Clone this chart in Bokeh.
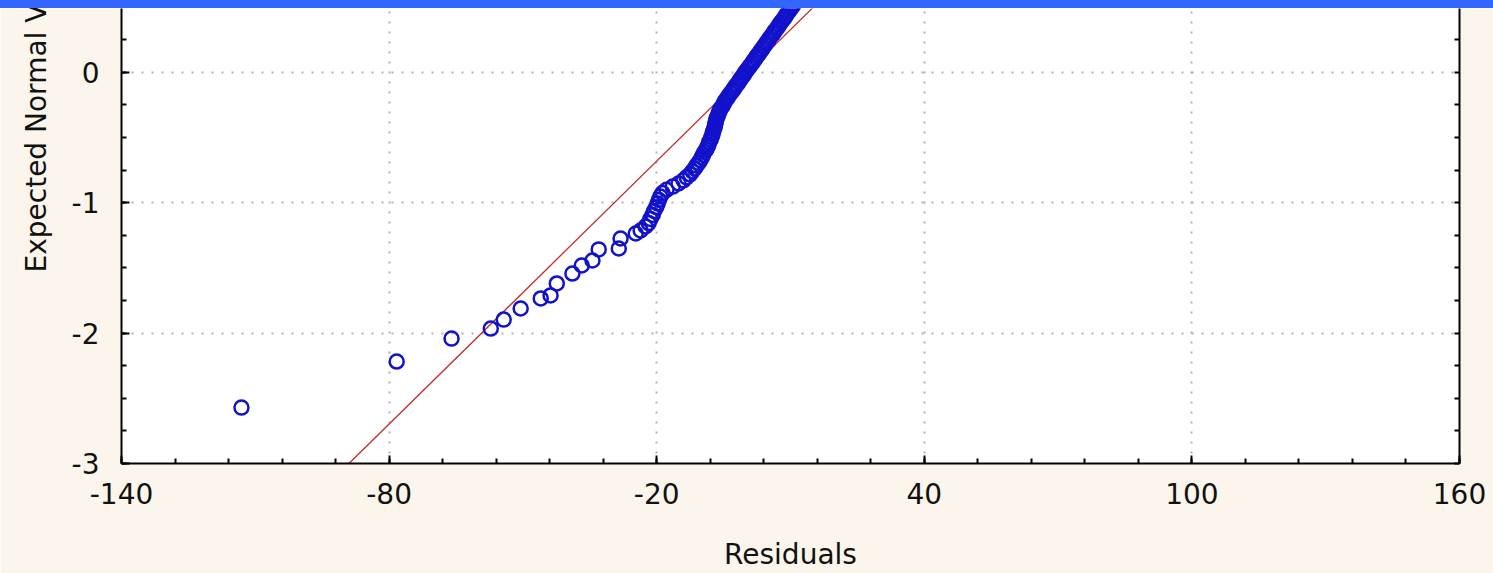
import numpy as np
from bokeh.plotting import figure
from bokeh.layouts import column
from bokeh.models import LinearAxis, FixedTicker, Range1d, ColumnDataSource, Title, Div
from bokeh.embed import file_html
from bokeh.resources import INLINE

# ---- data ----
residuals = [-113.1, -78.3, -66.0, -57.2, -54.3, -50.5, -46.0, -43.8, -42.4, -38.9,
             -36.8, -34.4, -33.0, -28.5, -28.1, -24.7, -23.6, -22.5,
             -21.8, -21.4, -20.9, -20.6, -20.1, -19.8, -19.5, -19.2, -18.7, -17.8,
             -16.4, -15.1, -14.0, -13.3, -12.5, -12.0, -11.5, -11.1, -10.6, -10.2,
             -9.9, -9.6, -9.3, -8.9, -8.6, -8.4, -8.2, -7.9, -7.7, -7.5, -7.4, -7.2,
             -7.0, -6.9, -6.8, -6.7, -6.5, -6.3, -6.1, -5.9, -5.7, -5.3, -5.0, -4.8,
             -4.5, -4.1, -3.8, -3.4, -3.0, -2.7, -2.4, -2.0, -1.6, -1.3, -1.0, -0.6,
             -0.3, 0.0, 0.4, 0.8, 1.1, 1.5, 1.8, 2.2, 2.5, 2.9, 3.2, 3.6, 3.9, 4.3,
             4.6, 5.0, 5.3, 5.7, 6.1, 6.4, 6.8, 7.2, 7.5, 7.9, 8.3, 8.7, 9.0, 9.4,
             9.8, 10.2, 10.6, 10.9, 11.2]
expected_normal = [-2.571, -2.218, -2.042, -1.965, -1.896, -1.811, -1.734, -1.711, -1.619,
                   -1.543, -1.481, -1.443, -1.358, -1.351, -1.274, -1.236, -1.213, -1.182,
                   -1.156, -1.124, -1.093, -1.063, -1.034, -1.006, -0.979, -0.952, -0.926,
                   -0.901, -0.876, -0.852, -0.828, -0.805, -0.782, -0.759, -0.737, -0.715,
                   -0.694, -0.673, -0.652, -0.632, -0.611, -0.592, -0.572, -0.553, -0.533,
                   -0.514, -0.495, -0.476, -0.458, -0.439, -0.421, -0.403, -0.385, -0.367,
                   -0.349, -0.331, -0.314, -0.296, -0.279, -0.262, -0.244, -0.227, -0.210,
                   -0.193, -0.176, -0.159, -0.142, -0.126, -0.109, -0.092, -0.075, -0.058,
                   -0.042, -0.025, -0.008, 0.008, 0.025, 0.042, 0.058, 0.075, 0.092, 0.109,
                   0.126, 0.142, 0.159, 0.176, 0.193, 0.210, 0.227, 0.244, 0.262, 0.279,
                   0.296, 0.314, 0.331, 0.349, 0.367, 0.385, 0.403, 0.421, 0.439, 0.458,
                   0.476, 0.495, 0.514, 0.533, 0.553]
ref_line_x = [-89.0, 30.0]
ref_line_y = [-3.0, 1.0]
x_ticks = [-140, -80, -20, 40, 100, 160]
y_ticks = [-3, -2, -1, 0]
x_label = "Residuals"
y_label = "Expected Normal Value"

CREAM = "#fcf5eb"
BLUE_BAND = "#3366ff"
FONT = "DejaVu Sans"

p = figure(width=1493, height=565,
           x_range=Range1d(-140, 160), y_range=Range1d(-3, 0.49),
           output_backend="svg", toolbar_location=None,
           min_border_left=121, min_border_right=34, min_border_top=0, min_border_bottom=110,
           background_fill_color="white", border_fill_color=CREAM,
           outline_line_color=None)

minor_x = list(np.arange(-140, 161, 12))
minor_y = list(np.arange(-3, 0.5, 0.25))

def style_axis(ax):
    ax.axis_line_color = "black"
    ax.axis_line_width = 2
    ax.major_tick_in = 8
    ax.major_tick_out = 0
    ax.minor_tick_in = 5
    ax.minor_tick_out = 0
    ax.major_tick_line_width = 2
    ax.minor_tick_line_width = 2
    ax.major_tick_line_color = "black"
    ax.minor_tick_line_color = "black"
    ax.major_label_text_font = FONT
    ax.major_label_text_font_size = "28px"
    ax.major_label_text_color = "#111111"

p.xaxis.ticker = FixedTicker(ticks=x_ticks, minor_ticks=minor_x)
p.yaxis.ticker = FixedTicker(ticks=y_ticks, minor_ticks=minor_y)
style_axis(p.xaxis[0])
style_axis(p.yaxis[0])
p.xaxis.major_label_overrides = {t: str(t) for t in x_ticks}
p.yaxis.major_label_overrides = {t: str(t) for t in y_ticks}
p.xaxis.major_label_standoff = 19
p.yaxis.major_label_standoff = 22

p.xaxis.axis_label = x_label
p.xaxis.axis_label_text_font = FONT
p.xaxis.axis_label_text_font_size = "28px"
p.xaxis.axis_label_text_font_style = "normal"
p.xaxis.axis_label_text_color = "#111111"
p.xaxis.axis_label_standoff = 31

# right-hand frame axis: ticks only, no labels
right = LinearAxis(ticker=FixedTicker(ticks=[], minor_ticks=minor_y))
style_axis(right)
p.add_layout(right, "right")

p.xgrid.ticker = FixedTicker(ticks=x_ticks)
p.ygrid.ticker = FixedTicker(ticks=y_ticks)
for g in (p.xgrid[0], p.ygrid[0]):
    g.grid_line_color = "#b0b0b0"
    g.grid_line_dash = "2 8"
    g.grid_line_width = 2

p.line(ref_line_x, ref_line_y, line_color="#c0302a", line_width=1.3)

src = ColumnDataSource(dict(x=residuals, y=expected_normal))
p.scatter("x", "y", source=src, marker="circle", size=14, fill_color=None,
          line_color="#1212cc", line_width=2.5)

ytitle = Title(text=y_label, align="left", offset=191, standoff=31,
               text_font=FONT, text_font_size="28px", text_font_style="normal",
               text_color="#111111")
p.add_layout(ytitle, "left")

band = Div(text="", width=1493, height=8,
           styles={"background-color": BLUE_BAND, "margin": "0", "padding": "0"})

layout = column(band, p, spacing=0)
open("out.html", "w").write(file_html(layout, INLINE))
